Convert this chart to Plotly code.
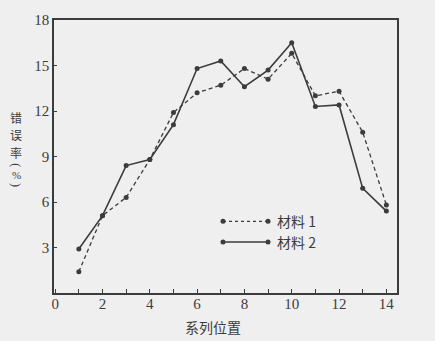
import plotly.graph_objects as go

positions = list(range(1, 15))
material1 = [1.4, 5.1, 6.3, 8.8, 11.9, 13.2, 13.7, 14.8, 14.1, 15.8, 13.0, 13.3, 10.6, 5.8]
material2 = [2.9, 5.1, 8.4, 8.8, 11.1, 14.8, 15.3, 13.6, 14.7, 16.5, 12.3, 12.4, 6.9, 5.4]
series_names = ["材料 1", "材料 2"]
x_title = "系列位置"
y_title_main = ["错", "误", "率"]
y_title_unit = ["(", "%", ")"]
y_ticks = [3, 6, 9, 12, 15, 18]

INK = "#3c3c3c"
BG = "#efefef"
NUM_FONT = "Liberation Serif"
CJK_FONT = "Noto Sans CJK SC"

fig = go.Figure()
fig.add_trace(go.Scatter(x=positions, y=material1, mode="lines+markers", name=series_names[0],
                         line=dict(color=INK, width=1.3, dash="4px,3px"),
                         marker=dict(color=INK, size=5)))
fig.add_trace(go.Scatter(x=positions, y=material2, mode="lines+markers", name=series_names[1],
                         line=dict(color=INK, width=1.6),
                         marker=dict(color=INK, size=5)))

L, R, T, B = 54, 38, 15, 48
W, H = 435, 341
pw, ph = W - L - R, H - T - B

def px(x):
    return (x - L) / pw

def py(y):
    return (H - B - y) / ph

# manual legend
shapes = []
annotations = []
for i, (yy, dash) in enumerate([(220, "3px,3px"), (241, "solid")]):
    shapes.append(dict(type="line", xref="paper", yref="paper", x0=px(223), x1=px(268),
                       y0=py(yy), y1=py(yy), line=dict(color=INK, width=1.3 if i == 0 else 1.6, dash=dash)))
    for xx in (223, 268):
        shapes.append(dict(type="circle", xref="paper", yref="paper", xsizemode="pixel", ysizemode="pixel",
                           xanchor=px(xx), yanchor=py(yy), x0=-2.5, x1=2.5, y0=-2.5, y1=2.5,
                           fillcolor=INK, line=dict(color=INK, width=0)))
    annotations.append(dict(xref="paper", yref="paper", x=px(275), y=py(yy), xanchor="left", yanchor="middle",
                            text=series_names[i], showarrow=False, font=dict(family=CJK_FONT, size=14, color=INK)))

# y title (vertical stacked)
for ch, yy in zip(y_title_main, [114, 132, 150]):
    annotations.append(dict(xref="paper", yref="paper", x=px(16), y=py(yy), xanchor="center", yanchor="middle",
                            text=ch, showarrow=False, borderpad=0,
                            font=dict(family=CJK_FONT, size=12, color=INK)))
for ch, yy, s, a in zip(y_title_unit, [163, 173, 183], [12, 11, 12], [90, 0, 90]):
    annotations.append(dict(xref="paper", yref="paper", x=px(16), y=py(yy), xanchor="center", yanchor="middle",
                            text=ch, textangle=a, showarrow=False, borderpad=0,
                            font=dict(family=NUM_FONT, size=s, color=INK)))

annotations.append(dict(xref="paper", yref="paper", x=px(213), y=py(328), xanchor="center", yanchor="middle",
                        text=x_title, showarrow=False, font=dict(family=CJK_FONT, size=14, color=INK)))

fig.update_layout(
    width=W, height=H,
    margin=dict(l=L, r=R, t=T, b=B),
    paper_bgcolor=BG, plot_bgcolor=BG,
    showlegend=False,
    shapes=shapes,
    annotations=annotations,
    font=dict(family=NUM_FONT, size=15, color=INK),
)
fig.update_xaxes(range=[-0.05, 14.45], tickmode="linear", tick0=0, dtick=2,
                 ticks="inside", ticklen=4, tickcolor=INK, tickwidth=1,
                 minor=dict(dtick=1, tick0=0, ticks="inside", ticklen=4, tickcolor=INK, tickwidth=1),
                 ticklabelstandoff=-4,
                 showgrid=False, zeroline=False, showline=True, linecolor=INK, linewidth=1.5, mirror=True,
                 tickfont=dict(family=NUM_FONT, size=15, color=INK))
fig.update_yaxes(range=[0, 18], tickmode="array", tickvals=y_ticks,
                 ticks="inside", ticklen=3, tickcolor=INK, tickwidth=1,
                 showgrid=False, zeroline=False, showline=True, linecolor=INK, linewidth=1.5, mirror=True,
                 tickfont=dict(family=NUM_FONT, size=15, color=INK))

fig.write_html("out.html")
